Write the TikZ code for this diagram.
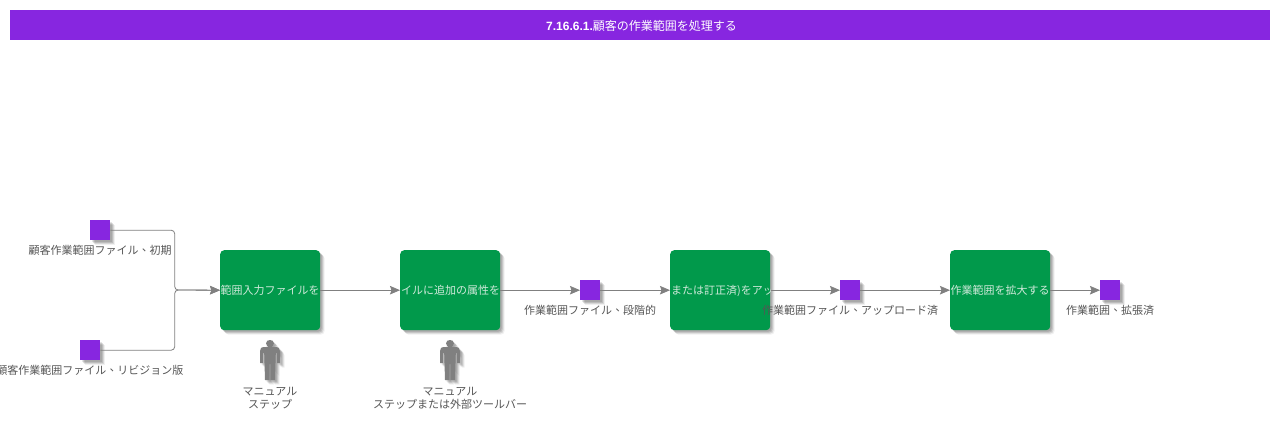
\documentclass[tikz,border=0pt]{standalone}
\usepackage{fontspec}
\usetikzlibrary{arrows.meta,shadows}
\setmainfont{Noto Sans CJK JP}
\newfontfamily\latfont{Liberation Sans}
\newfontfamily\tcfont{Noto Sans CJK TC}
\newcommand{\dun}{{\tcfont 、}}
\definecolor{barpurple}{HTML}{8726E0}
\definecolor{stepgreen}{HTML}{01994B}
\definecolor{linegray}{HTML}{808080}
\definecolor{labelgray}{HTML}{555555}
\definecolor{steptext}{HTML}{CFE9DA}
\tikzset{
  softshadow/.style={drop shadow={shadow xshift=4.5pt,shadow yshift=-4.5pt,fill=black,opacity=.06},
                     drop shadow={shadow xshift=3.5pt,shadow yshift=-3.5pt,fill=black,opacity=.10},
                     drop shadow={shadow xshift=2.5pt,shadow yshift=-2.5pt,fill=black,opacity=.12},
                     drop shadow={shadow xshift=1.5pt,shadow yshift=-1.5pt,fill=black,opacity=.10}},
  stepbox/.style={draw=none,fill=stepgreen,rounded corners=4pt,minimum width=100pt,minimum height=80pt,inner sep=0pt,anchor=north west,softshadow},
  datasq/.style={draw=none,fill=barpurple,minimum width=20pt,minimum height=20pt,inner sep=0pt,anchor=north west,softshadow},
  lbl/.style={text=labelgray,font=\fontsize{11pt}{13pt}\selectfont,inner sep=0pt,align=center,anchor=base},
  steplbl/.style={text=steptext,font=\fontsize{11pt}{13pt}\selectfont,inner sep=0pt,anchor=base west},
  conn/.style={draw=linegray,line width=.8pt,-{Stealth[length=10pt,width=8.5pt,inset=1.5pt,fill=linegray]}},
  joinconn/.style={conn,rounded corners=3.5pt},
  personfill/.style={fill=linegray,draw=none},
}
\newcommand{\personat}[2]{%
  \begin{scope}[shift={(#1,#2)}]
    \path[personfill,softshadow] (-4,3.3) .. controls (-4,1) and (-2,0) .. (0,0) .. controls (2,0) and (4,1) .. (4,3.3)
      .. controls (4,5.5) and (2,6.6) .. (1.5,6.8) -- (4,7) .. controls (9,7) and (10,8) .. (10,11)
      -- (10,23) -- (7,23) -- (7,13) -- (5.8,13) -- (5,40) -- (.4,40) -- (.4,24) -- (-.4,24) -- (-.4,40) -- (-5,40)
      -- (-5.8,13) -- (-7,13) -- (-7,23) -- (-10,23) -- (-10,11)
      .. controls (-10,8) and (-9,7) .. (-4,7) -- (-1.5,6.8) .. controls (-2,6.6) and (-4,5.5) .. (-4,3.3) -- cycle;
  \end{scope}}
\begin{document}
\begin{tikzpicture}[x=1pt,y=-1pt]
\useasboundingbox (0,0) rectangle (1280,421);
\fill[white] (0,0) rectangle (1280,421);
\node[fill=barpurple,minimum width=1260pt,minimum height=30pt,inner sep=0pt,anchor=north west] (bar) at (10,10) {};
\node[text=white,inner sep=0pt,anchor=base,font=\fontsize{12pt}{14pt}\selectfont] (title) at (641.5,30) {{\latfont\bfseries 7.16.6.1.}顧客の作業範囲を処理する};

\node[datasq] (s1) at (90,220) {};
\node[datasq] (s2) at (80,340) {};
\node[datasq] (s3) at (580,280) {};
\node[datasq] (s4) at (840,280) {};
\node[datasq] (s5) at (1100,280) {};
\node[stepbox] (b1) at (220,250) {};
\node[stepbox] (b2) at (400,250) {};
\node[stepbox] (b3) at (670,250) {};
\node[stepbox] (b4) at (950,250) {};
\coordinate (j) at (174.7,290);

\draw[joinconn] (s1.east) -| (j) -- (b1.west);
\draw[joinconn] (s2.east) -| (j) -- (b1.west);
\draw[conn] (b1.east) -- (b2.west);
\draw[conn] (b2.east) -- (s3.west);
\draw[conn] (s3.east) -- (b3.west);
\draw[conn] (b3.east) -- (s4.west);
\draw[conn] (s4.east) -- (b4.west);
\draw[conn] (b4.east) -- (s5.west);

\begin{scope}\clip (b1.north west) rectangle (b1.south east);
\node[steplbl] (t1) at (220.5,294.5) {範囲入力ファイルを};\end{scope}
\begin{scope}\clip (b2.north west) rectangle (b2.south east);
\node[steplbl] (t2) at (401,294.5) {イルに追加の属性を};\end{scope}
\begin{scope}\clip (b3.north west) rectangle (b3.south east);
\node[steplbl] (t3) at (671,294.5) {または訂正済)をアッ};\end{scope}
\node[steplbl] (t4) at (950.5,294.5) {作業範囲を拡大する};

\node[lbl] (l1) at (100,254.5) {顧客作業範囲ファイル\dun 初期};
\node[lbl] (l2) at (90,374.5) {顧客作業範囲ファイル\dun リビジョン版};
\node[lbl] (l3) at (590,314.5) {作業範囲ファイル\dun 段階的};
\node[lbl] (l4) at (850,314.5) {作業範囲ファイル\dun アップロード済};
\node[lbl] (l5) at (1110,314.5) {作業範囲\dun 拡張済};

\personat{270}{340}
\personat{450}{340}
\node[lbl,anchor=base] (m1) at (270,408) {マニュアル\\ステップ};
\node[lbl,anchor=base] (m2) at (450,408) {マニュアル\\ステップまたは外部ツールバー};
\end{tikzpicture}
\end{document}
